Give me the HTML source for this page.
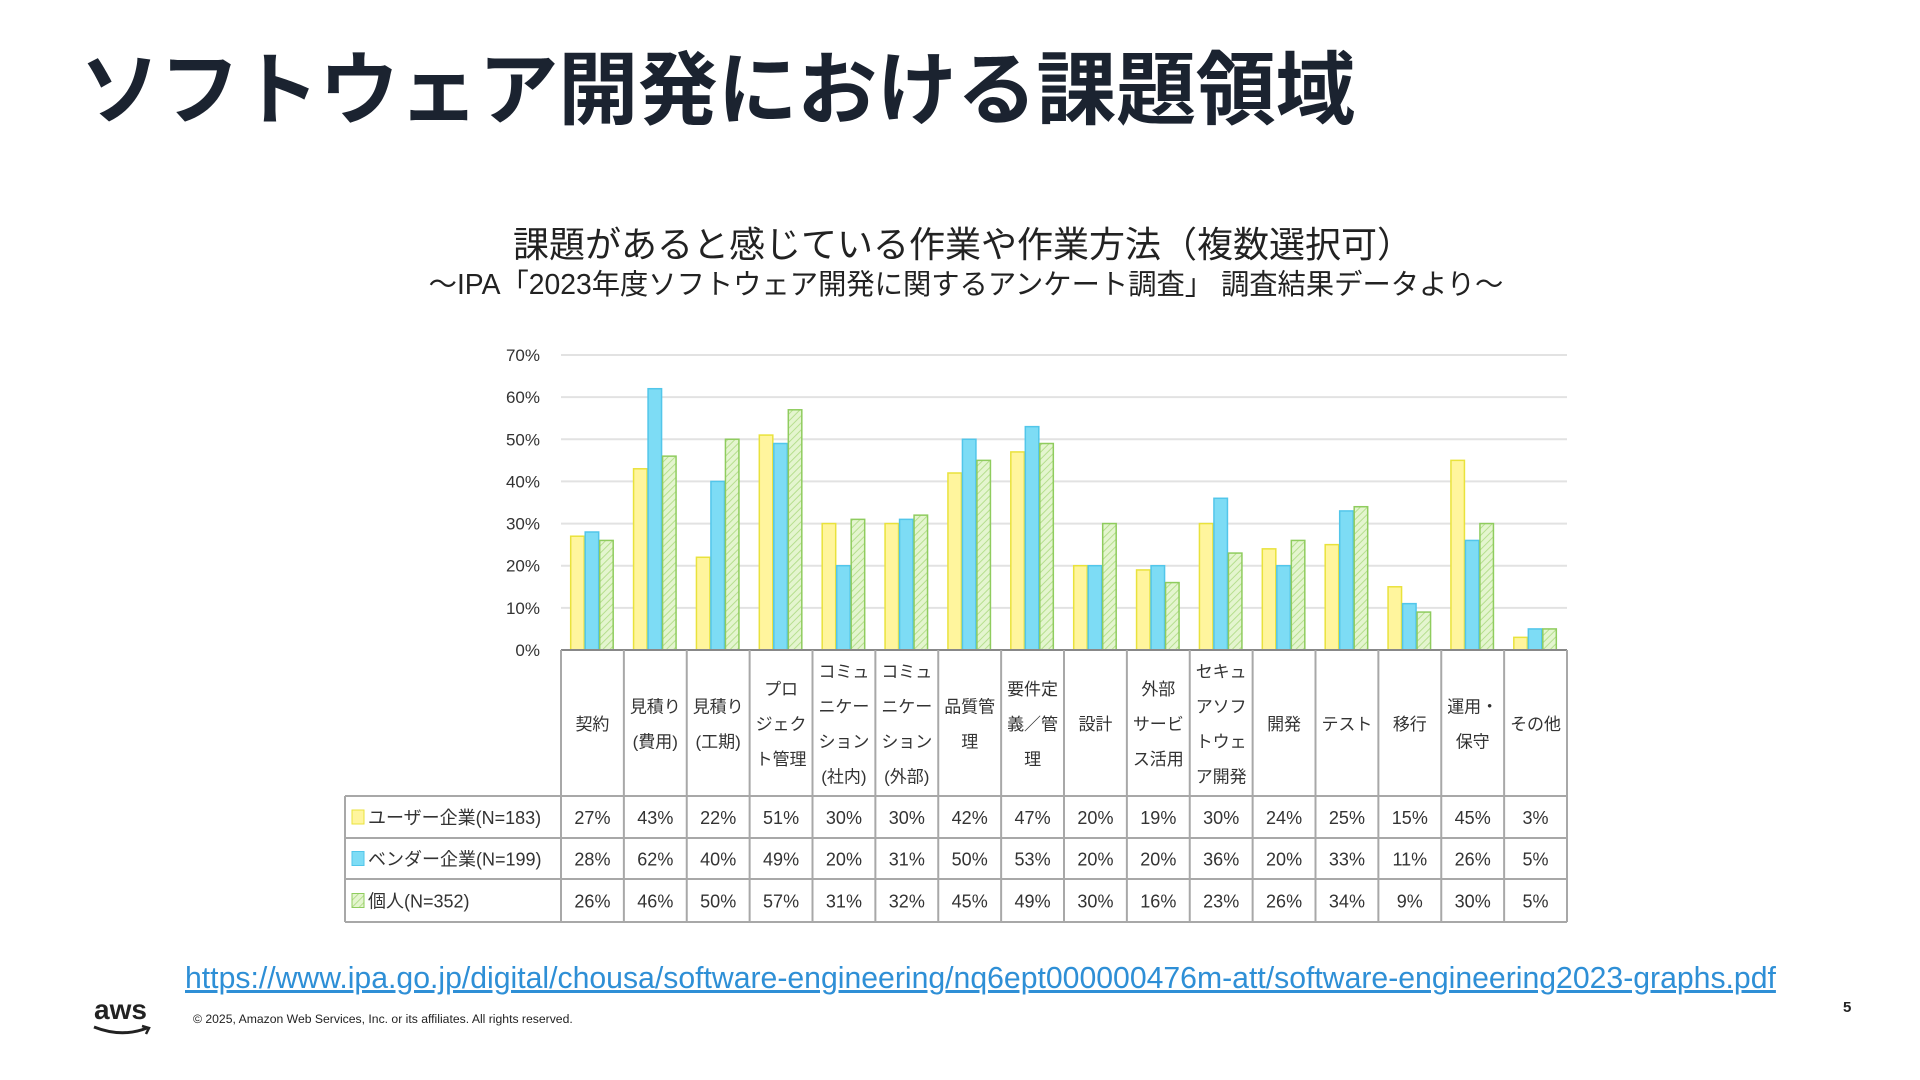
<!DOCTYPE html>
<html><head><meta charset="utf-8"><style>
html,body{margin:0;padding:0;background:#fff;width:1920px;height:1080px;overflow:hidden}
body{font-family:"Liberation Sans","Noto Sans CJK JP",sans-serif;position:relative}
.t{position:absolute;white-space:nowrap}
</style></head><body>
<div class="t" style="left:80px;top:26px;font-size:80px;font-weight:bold;color:#1b2330;letter-spacing:-0.3px;font-family:'Liberation Sans','Noto Sans CJK JP',sans-serif">ソフトウェア開発における課題領域</div>
<div class="t" style="left:0;width:1920px;text-align:center;top:216px;font-size:36px;color:#222;margin-left:3px">課題があると感じている作業や作業方法（複数選択可）</div>
<div class="t" style="left:0;width:1920px;text-align:center;top:262px;font-size:28.3px;color:#222;margin-left:6px">～IPA「2023年度ソフトウェア開発に関するアンケート調査」 調査結果データより～</div>
<svg id="chart" width="1920" height="1080" style="position:absolute;left:0;top:0" xmlns="http://www.w3.org/2000/svg">
<defs><pattern id="hatch" width="5" height="5" patternUnits="userSpaceOnUse" patternTransform="rotate(45)"><rect width="5" height="5" fill="#e4f5cf"/><line x1="0" y1="0" x2="0" y2="5" stroke="#b6df8e" stroke-width="2"/></pattern></defs>
</svg>
<a class="t" style="left:185px;top:962px;font-size:30.2px;color:#2e8fd6;text-decoration:underline">https://www.ipa.go.jp/digital/chousa/software-engineering/nq6ept000000476m-att/software-engineering2023-graphs.pdf</a>
<div class="t" style="left:94px;top:994px;font-size:28px;color:#222;font-weight:bold">aws</div>
<svg style="position:absolute;left:92px;top:1024px" width="62" height="14"><path d="M2 3 Q30 14 55 4" stroke="#222" stroke-width="3" fill="none"/><path d="M50 2 L57 4 L54 10" stroke="#222" stroke-width="2.5" fill="none"/></svg>
<div class="t" style="left:193px;top:1012px;font-size:12.2px;color:#222">© 2025, Amazon Web Services, Inc. or its affiliates. All rights reserved.</div>
<div class="t" style="left:1843px;top:999px;font-size:15px;color:#222;font-weight:bold">5</div>
<script>
const categories=[["契約"],["見積り","(費用)"],["見積り","(工期)"],["プロ","ジェク","ト管理"],["コミュ","ニケー","ション","(社内)"],["コミュ","ニケー","ション","(外部)"],["品質管","理"],["要件定","義／管","理"],["設計"],["外部","サービ","ス活用"],["セキュ","アソフ","トウェ","ア開発"],["開発"],["テスト"],["移行"],["運用・","保守"],["その他"]];
const userVals=[27,43,22,51,30,30,42,47,20,19,30,24,25,15,45,3];
const vendorVals=[28,62,40,49,20,31,50,53,20,20,36,20,33,11,26,5];
const personalVals=[26,46,50,57,31,32,45,49,30,16,23,26,34,9,30,5];
const seriesNames=["ユーザー企業(N=183)","ベンダー企業(N=199)","個人(N=352)"];
const yTicks=[0,10,20,30,40,50,60,70];
const svg=document.getElementById('chart');const NS='http://www.w3.org/2000/svg';
const X0=561,X1=1567,Y0=650,Ytop=355,N=categories.length,CW=(X1-X0)/N;
const y=v=>Y0-(v/70)*(Y0-Ytop);
const xg=i=>X0+i*CW;
function mk(t,a,p){const e=document.createElementNS(NS,t);for(const k in a)e.setAttribute(k,a[k]);(p||svg).appendChild(e);return e;}
yTicks.forEach(v=>{
 const l=mk('line',{x1:X0,x2:X1,y1:y(v),y2:y(v),stroke:'#e2e2e2','stroke-width':2});
 
 
 const t=mk('text',{x:540,y:y(v)+6,'text-anchor':'end','font-size':17,fill:'#333'});t.textContent=v+'%';
 
 
});
const styles=[{fill:'#fff59d',stroke:'#e9e23c'},{fill:'#7ddcf5',stroke:'#52c6ea'},{fill:'url(#hatch)',stroke:'#8fcc5e'}];
const series=[userVals,vendorVals,personalVals];
const BW=14.5,off=(CW-3*BW)/2;
series.forEach((vals,s)=>vals.forEach((v,i)=>{
 const r=mk('rect',{x:xg(i)+off+s*BW,y:y(v),width:BW-1,height:Y0-y(v),fill:styles[s].fill,stroke:styles[s].stroke,'stroke-width':1.5});
 
 
}));
const TL=345,rows=[796,838,879,922];
const g='#a8a8a8';
mk('line',{x1:X0,x2:X1,y1:Y0,y2:Y0,stroke:'#888','stroke-width':2});
for(let i=0;i<=N;i++)mk('line',{x1:xg(i),x2:xg(i),y1:Y0,y2:922,stroke:g,'stroke-width':2});
mk('line',{x1:TL,x2:TL,y1:796,y2:922,stroke:g,'stroke-width':2});
rows.forEach(ry=>mk('line',{x1:TL,x2:X1,y1:ry,y2:ry,stroke:g,'stroke-width':2}));
categories.forEach((lines,i)=>{
 const cx=xg(i)+CW/2,h=(lines.length-1)*35,sy=723-h/2+7;
 lines.forEach((ln,j)=>{const t=mk('text',{x:cx,y:sy+j*35,'text-anchor':'middle','font-size':17,fill:'#333'});t.textContent=ln;
 
 });
 series.forEach((vals,s)=>{const t=mk('text',{x:cx,y:(rows[s]+rows[s+1])/2+7,'text-anchor':'middle','font-size':18,fill:'#333'});t.textContent=vals[i]+'%';
 
 });
});
seriesNames.forEach((n,s)=>{
 const cy=(rows[s]+rows[s+1])/2;
 const r=mk('rect',{x:352,y:cy-7,width:12,height:14,fill:styles[s].fill,stroke:styles[s].stroke,'stroke-width':1});
 
 
 const t=mk('text',{x:368,y:cy+7,'font-size':18,fill:'#333'});t.textContent=n;
 
 
});
</script>
</body></html>
